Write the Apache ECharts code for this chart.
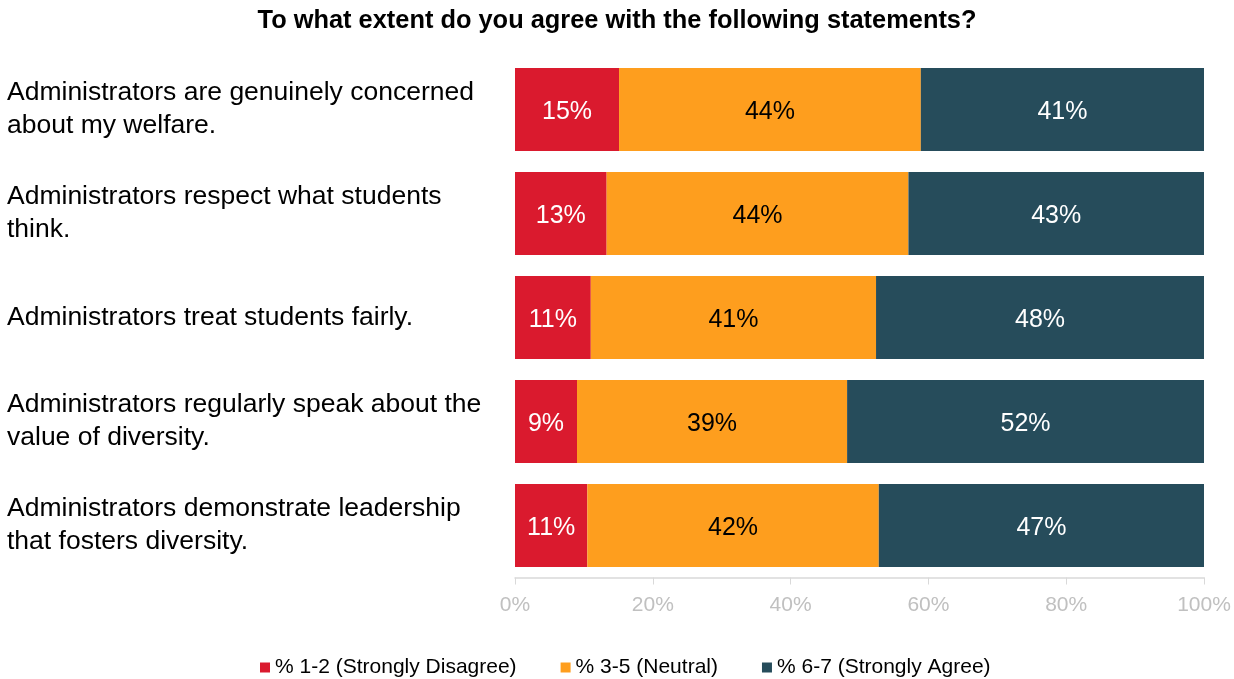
<!DOCTYPE html>
<html>
<head>
<meta charset="utf-8">
<script src="https://cdn.jsdelivr.net/npm/echarts@6/dist/echarts.min.js"></script>
<style>html,body{margin:0;padding:0;background:#fff;}#c{width:1234px;height:679px;}</style>
</head>
<body>
<div id="c"></div>
<script>
var categories = [
  "Administrators are genuinely concerned\nabout my welfare.",
  "Administrators respect what students\nthink.",
  "Administrators treat students fairly.",
  "Administrators regularly speak about the\nvalue of diversity.",
  "Administrators demonstrate leadership\nthat fosters diversity."
];
var seriesNames = ["% 1-2 (Strongly Disagree)", "% 3-5 (Neutral)", "% 6-7 (Strongly Agree)"];
var disagree = [15.1, 13.3, 11.0, 9.0, 10.5];
var neutral = [43.8, 43.8, 41.4, 39.2, 42.3];
var agree = [41.1, 42.9, 47.6, 51.8, 47.2];
var xTicks = [0, 20, 40, 60, 80, 100];
var colors = ["#da1a2e", "#fe9e1e", "#264c5b"];
var labelColors = ["#ffffff", "#000000", "#ffffff"];
var FONT = "Liberation Sans, Arial, sans-serif";

var chart = echarts.init(document.getElementById('c'), null, {renderer: 'canvas'});
function mk(name, data, i) {
  return {
    name: name, type: 'bar', stack: 'total', data: data, barWidth: '80%',
    itemStyle: {color: colors[i]},
    label: {show: true, position: 'inside', color: labelColors[i], fontSize: 25, fontFamily: FONT,
      offset: [0, 3],
      formatter: function (p) { return Math.round(p.value) + '%'; }},
    emphasis: {disabled: true}
  };
}
chart.setOption({
  animation: false,
  title: {text: "To what extent do you agree with the following statements?", left: 'center', top: 3,
    textStyle: {fontSize: 25.4, fontWeight: 'bold', color: '#000', fontFamily: FONT}},
  grid: {left: 515, right: 30, top: 57.5, height: 520, containLabel: false},
  legend: {top: 652, left: 255, itemWidth: 10, itemHeight: 10, itemGap: 44, icon: 'rect',
    textStyle: {fontSize: 21, color: '#000', fontFamily: FONT}, data: seriesNames},
  xAxis: {type: 'value', min: 0, max: 100, interval: 20,
    axisLine: {show: true, lineStyle: {color: '#d9d9d9', width: 1.5}},
    axisTick: {show: true, length: 7, lineStyle: {color: '#d9d9d9'}},
    splitLine: {show: false},
    axisLabel: {color: '#c0c0c0', fontSize: 21, fontFamily: FONT, margin: 17,
      formatter: function (v) { return xTicks.indexOf(v) >= 0 ? v + '%' : ''; }}},
  yAxis: {type: 'category', inverse: true, data: categories,
    axisLine: {show: false}, axisTick: {show: false},
    axisLabel: {align: 'left', margin: 508, color: '#000', fontSize: 26.5, lineHeight: 33,
      padding: [6, 0, 0, 0], fontFamily: FONT}},
  series: [mk(seriesNames[0], disagree, 0), mk(seriesNames[1], neutral, 1), mk(seriesNames[2], agree, 2)]
});
</script>
</body>
</html>
